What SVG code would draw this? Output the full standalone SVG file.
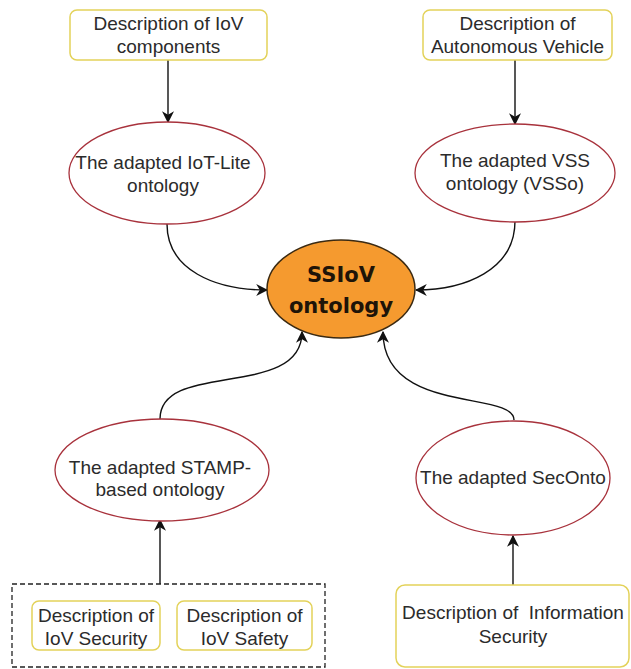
<svg xmlns="http://www.w3.org/2000/svg" width="631" height="669" viewBox="0 0 631 669">
  <style>
    .box { fill: #ffffff; stroke: #e3d25a; stroke-width: 1.5; }
    .oval { fill: #ffffff; stroke: #a8323c; stroke-width: 1.3; }
    .core { fill: #f59a2f; stroke: #3b2a12; stroke-width: 1.5; }
    .group { fill: none; stroke: #222222; stroke-width: 1.3; stroke-dasharray: 5 3; }
    .lbl { font-family: "Liberation Sans", Arial, sans-serif; font-size: 19px; fill: #2b2b2b; text-anchor: middle; }
    .core-lbl { font-family: "DejaVu Sans", "Liberation Sans", sans-serif; font-size: 21px; font-weight: bold; fill: #1e1408; text-anchor: middle; }
    .edge { fill: none; stroke: #111111; stroke-width: 1.4; marker-end: url(#arrow); }
  </style>
  <defs>
    <marker id="arrow" viewBox="0 0 10 10" refX="9" refY="5" markerWidth="12" markerHeight="12" markerUnits="userSpaceOnUse" orient="auto">
      <path d="M0 0 L10 5 L0 10 L3 5 Z" fill="#111111"/>
    </marker>
  </defs>
  <rect width="631" height="669" fill="#ffffff"/>

  <!-- connectors -->
  <g id="connectors">
    <path class="edge" d="M168 60 L168 122"/>
    <path class="edge" d="M515 60 L515 124"/>
    <path class="edge" d="M167 224 C167 270 215 290 267 290"/>
    <path class="edge" d="M515 221 C515 270 465 290 416 290"/>
    <path class="edge" d="M160 419 C160 360 302 400 302 332"/>
    <path class="edge" d="M514 420 C514 390 383 415 383 332"/>
    <path class="edge" d="M160 584 L160 520"/>
    <path class="edge" d="M513 585 L513 536"/>
  </g>

  <!-- top inputs -->
  <g id="iov-components">
    <rect class="box" x="70" y="10" width="197" height="50" rx="7"/>
    <text class="lbl" x="168.5" y="29.5">Description of IoV</text>
    <text class="lbl" x="168.5" y="53">components</text>
  </g>
  <g id="autonomous-vehicle">
    <rect class="box" x="423" y="10" width="189" height="50" rx="7"/>
    <text class="lbl" x="517.5" y="29.5">Description of</text>
    <text class="lbl" x="517.5" y="53">Autonomous Vehicle</text>
  </g>

  <!-- adapted ontologies -->
  <g id="iot-lite">
    <ellipse class="oval" cx="167" cy="173" rx="98" ry="51"/>
    <text class="lbl" x="163" y="169">The adapted IoT-Lite</text>
    <text class="lbl" x="163" y="192">ontology</text>
  </g>
  <g id="vsso">
    <ellipse class="oval" cx="515" cy="173" rx="100" ry="49"/>
    <text class="lbl" x="515" y="167">The adapted VSS</text>
    <text class="lbl" x="515" y="190">ontology (VSSo)</text>
  </g>

  <!-- central ontology -->
  <g id="ssiov">
    <ellipse class="core" cx="341" cy="289" rx="74" ry="49"/>
    <text class="core-lbl" x="341" y="282">SSIoV</text>
    <text class="core-lbl" x="341" y="313">ontology</text>
  </g>

  <g id="stamp">
    <ellipse class="oval" cx="162" cy="470" rx="107" ry="51"/>
    <text class="lbl" x="160" y="474">The adapted STAMP-</text>
    <text class="lbl" x="160" y="496">based ontology</text>
  </g>
  <g id="seconto">
    <ellipse class="oval" cx="513" cy="478" rx="97" ry="57"/>
    <text class="lbl" x="513" y="484">The adapted SecOnto</text>
  </g>

  <!-- bottom inputs -->
  <g id="iov-descriptions">
    <rect class="group" x="12" y="584" width="313" height="83"/>
    <g id="iov-security">
      <rect class="box" x="32" y="601" width="128" height="49" rx="7"/>
      <text class="lbl" x="96" y="622">Description of</text>
      <text class="lbl" x="96" y="645">IoV Security</text>
    </g>
    <g id="iov-safety">
      <rect class="box" x="177" y="601" width="135" height="49" rx="7"/>
      <text class="lbl" x="244.5" y="622">Description of</text>
      <text class="lbl" x="244.5" y="645">IoV Safety</text>
    </g>
  </g>
  <g id="information-security">
    <rect class="box" x="396" y="585" width="233" height="82" rx="9"/>
    <text class="lbl" x="513" y="619" xml:space="preserve">Description of  Information</text>
    <text class="lbl" x="513" y="643">Security</text>
  </g>
</svg>
